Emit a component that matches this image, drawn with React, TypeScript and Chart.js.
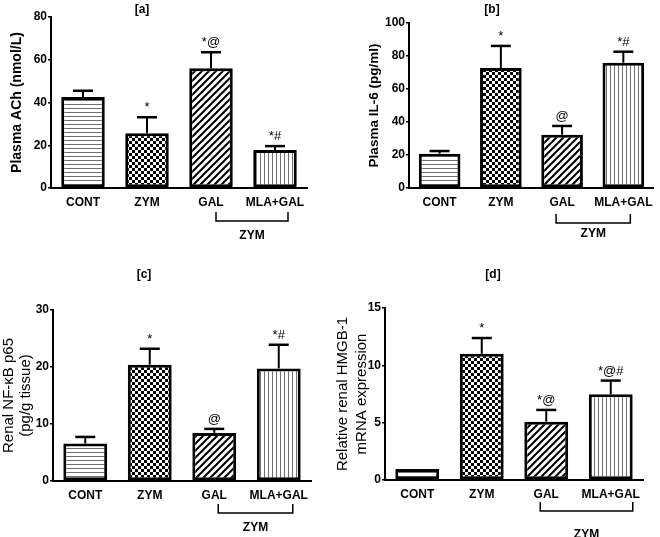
import React, { useEffect, useRef } from "react";
import { Chart, registerables } from "chart.js";

Chart.register(...registerables);

// ---------- data ----------
const categories = ["CONT", "ZYM", "GAL", "MLA+GAL"];
const groupLabel = "ZYM";

const titleA = "[a]";
const yTitleA = "Plasma ACh (nmol/L)";
const valuesA = [42.6, 25.6, 56.0, 17.8];
const errorsA = [2.9, 7.5, 7.5, 1.8];
const marksA = ["", "*", "*@", "*#"];
const yMaxA = 80;
const yStepA = 20;

const titleB = "[b]";
const yTitleB = "Plasma IL-6 (pg/ml)";
const valuesB = [20.8, 72.7, 32.3, 75.9];
const errorsB = [1.6, 13.4, 5.3, 6.7];
const marksB = ["", "*", "@", "*#"];
const yMaxB = 100;
const yStepB = 20;

const titleC = "[c]";
const yTitleC = ["Renal NF-\u03BAB p65", "(pg/g tissue)"];
const valuesC = [6.57, 20.4, 8.44, 19.75];
const errorsC = [1.16, 2.8, 0.7, 4.15];
const marksC = ["", "*", "@", "*#"];
const yMaxC = 30;
const yStepC = 10;

const titleD = "[d]";
const yTitleD = ["Relative renal HMGB-1", "mRNA expression"];
const valuesD = [0.96, 11.0, 5.09, 7.48];
const errorsD = [0, 1.38, 1.02, 1.19];
const marksD = ["", "*", "*@", "*@#"];
const yMaxD = 15;
const yStepD = 5;

// ---------- styles / layout ----------
const FONT = "'Liberation Sans', Arial, Helvetica, sans-serif";

type Layout = {
  left: number; top: number; w: number; h: number;
  areaLeft: number; areaTop: number; areaRight: number; areaBottom: number;
  titleX: number; titleY: number;
  yTitleFont: { size: number; weight: string; lineHeight: number };
  yTitlePad: number;
  bracketL: number; bracketR: number; bracketDy: number; bracketTick: number; groupDy: number;
};

const layoutA: Layout = {
  left: 0, top: 0, w: 330, h: 268,
  areaLeft: 51, areaTop: 17, areaRight: 307, areaBottom: 188,
  titleX: 142, titleY: 10,
  yTitleFont: { size: 14, weight: "bold", lineHeight: 1.2 }, yTitlePad: 9,
  bracketL: 5, bracketR: 13, bracketDy: 33, bracketTick: 9, groupDy: 48,
};
const layoutB: Layout = {
  left: 330, top: 0, w: 330, h: 268,
  areaLeft: 79, areaTop: 23, areaRight: 326, areaBottom: 188,
  titleX: 162, titleY: 10,
  yTitleFont: { size: 13.5, weight: "bold", lineHeight: 1.2 }, yTitlePad: 36,
  bracketL: -6, bracketR: 7, bracketDy: 35, bracketTick: 9, groupDy: 46,
};
const layoutC: Layout = {
  left: 0, top: 268, w: 330, h: 269,
  areaLeft: 53, areaTop: 42, areaRight: 311, areaBottom: 213,
  titleX: 144, titleY: 7,
  yTitleFont: { size: 15, weight: "normal", lineHeight: 1.15 }, yTitlePad: 0,
  bracketL: 4, bracketR: 14, bracketDy: 32, bracketTick: 9, groupDy: 47,
};
const layoutD: Layout = {
  left: 330, top: 268, w: 330, h: 269,
  areaLeft: 55, areaTop: 40, areaRight: 313, areaBottom: 212,
  titleX: 163, titleY: 7,
  yTitleFont: { size: 15, weight: "normal", lineHeight: 1.22 }, yTitlePad: 4,
  bracketL: -6, bracketR: 22, bracketDy: 31, bracketTick: 9, groupDy: 55,
};

function makePattern(kind: string): CanvasPattern | string {
  const c = document.createElement("canvas");
  let size = 4;
  if (kind === "check") size = 6;
  if (kind === "diag") size = 7;
  c.width = size;
  c.height = size;
  const ctx = c.getContext("2d");
  if (!ctx) return "#fff";
  ctx.fillStyle = "#fff";
  ctx.fillRect(0, 0, size, size);
  if (kind === "h") {
    ctx.fillStyle = "#707070";
    ctx.fillRect(0, 0, size, 1);
  } else if (kind === "v") {
    ctx.fillStyle = "#707070";
    ctx.fillRect(0, 0, 1, size);
  } else if (kind === "check") {
    ctx.fillStyle = "#000";
    ctx.fillRect(0, 0, 3, 3);
    ctx.fillRect(3, 3, 3, 3);
  } else if (kind === "diag") {
    ctx.strokeStyle = "#000";
    ctx.lineWidth = 2;
    for (const k of [-size, 0, size]) {
      ctx.beginPath();
      ctx.moveTo(k - 1, size + 1);
      ctx.lineTo(k + size + 1, -1);
      ctx.stroke();
    }
  }
  const p = ctx.createPattern(c, "repeat");
  return p || "#fff";
}

type PanelProps = {
  layout: Layout;
  title: string;
  yTitle: string | string[];
  values: number[];
  errors: number[];
  marks: string[];
  yMax: number;
  yStep: number;
};

function Panel(props: PanelProps) {
  const ref = useRef<HTMLCanvasElement | null>(null);
  useEffect(() => {
    const canvas = ref.current;
    if (!canvas) return;
    const L = props.layout;
    const fills = [makePattern("h"), makePattern("check"), makePattern("diag"), makePattern("v")];
    const xScaleH = 20;

    const overlay = {
      id: "overlay",
      afterDatasetsDraw(chart: any) {
        const ctx = chart.ctx as CanvasRenderingContext2D;
        const meta = chart.getDatasetMeta(0);
        const ys = chart.scales.y;
        ctx.save();
        // error bars
        ctx.strokeStyle = "#000";
        ctx.lineWidth = 2;
        meta.data.forEach((bar: any, i: number) => {
          const err = props.errors[i];
          const top = ys.getPixelForValue(props.values[i]);
          const et = ys.getPixelForValue(props.values[i] + err);
          if (err > 0) {
            ctx.beginPath();
            ctx.moveTo(bar.x, top);
            ctx.lineTo(bar.x, et);
            ctx.stroke();
            ctx.lineWidth = 2.5;
            ctx.beginPath();
            ctx.moveTo(bar.x - 10, et);
            ctx.lineTo(bar.x + 10, et);
            ctx.stroke();
            ctx.lineWidth = 2;
          }
          const mk = props.marks[i];
          if (mk) {
            ctx.fillStyle = "#000";
            ctx.font = `13px ${FONT}`;
            ctx.textAlign = "center";
            ctx.textBaseline = "alphabetic";
            ctx.fillText(mk, bar.x, et - 6);
          }
        });
        // panel title
        ctx.fillStyle = "#000";
        ctx.font = `bold 12px ${FONT}`;
        ctx.textAlign = "center";
        ctx.textBaseline = "middle";
        ctx.fillText(props.title, L.titleX, L.titleY);
        // bracket
        const b2 = meta.data[2];
        const b3 = meta.data[3];
        const x1 = b2.x + L.bracketL;
        const x2 = b3.x + L.bracketR;
        const by = chart.chartArea.bottom + L.bracketDy;
        ctx.lineWidth = 1.5;
        ctx.beginPath();
        ctx.moveTo(x1, by - L.bracketTick);
        ctx.lineTo(x1, by);
        ctx.lineTo(x2, by);
        ctx.lineTo(x2, by - L.bracketTick);
        ctx.stroke();
        ctx.font = `bold 12px ${FONT}`;
        ctx.fillText(groupLabel, (x1 + x2) / 2, chart.chartArea.bottom + L.groupDy);
        ctx.restore();
      },
    };

    const chart = new Chart(canvas, {
      type: "bar",
      data: {
        labels: categories,
        datasets: [
          {
            data: props.values,
            backgroundColor: fills as any,
            borderColor: "#000",
            borderWidth: 3,
            borderSkipped: false,
            barPercentage: 0.68,
            categoryPercentage: 1,
          },
        ],
      },
      options: {
        animation: false,
        responsive: false,
        devicePixelRatio: 1,
        layout: {
          padding: {
            left: 0,
            top: L.areaTop,
            right: L.w - L.areaRight,
            bottom: L.h - L.areaBottom - xScaleH,
          },
        },
        plugins: {
          legend: { display: false },
          tooltip: { enabled: false },
          title: { display: false },
        },
        scales: {
          x: {
            ticks: {
              font: { family: FONT, size: 12, weight: "bold" },
              color: "#000",
              padding: 7,
              maxRotation: 0,
              minRotation: 0,
              autoSkip: false,
            },
            grid: { display: true, drawOnChartArea: false, drawTicks: false, color: "#000" },
            border: { display: true, color: "#000", width: 2 },
            afterFit: (s: any) => {
              s.height = xScaleH;
            },
          },
          y: {
            min: 0,
            max: props.yMax,
            ticks: {
              stepSize: props.yStep,
              font: { family: FONT, size: 12, weight: "bold" },
              color: "#000",
              padding: 1,
            },
            grid: { display: true, drawOnChartArea: false, drawTicks: true, tickLength: 3, color: "#000", lineWidth: 1.5 },
            border: { display: true, color: "#000", width: 2 },
            title: {
              display: true,
              text: props.yTitle,
              color: "#000",
              font: {
                family: FONT,
                size: L.yTitleFont.size,
                weight: L.yTitleFont.weight as any,
                lineHeight: L.yTitleFont.lineHeight,
              },
              padding: { top: L.yTitlePad, bottom: 0 },
            },
            afterFit: (s: any) => {
              s.width = L.areaLeft;
            },
          },
        },
      } as any,
      plugins: [overlay],
    });
    return () => chart.destroy();
  }, []);
  const L = props.layout;
  return (
    <canvas
      ref={ref}
      width={L.w}
      height={L.h}
      style={{ position: "absolute", left: L.left, top: L.top, width: L.w, height: L.h }}
    />
  );
}

export default function App() {
  return (
    <div style={{ position: "absolute", left: 0, top: 0, width: 660, height: 537, background: "#fff" }}>
      <Panel layout={layoutA} title={titleA} yTitle={yTitleA} values={valuesA} errors={errorsA} marks={marksA} yMax={yMaxA} yStep={yStepA} />
      <Panel layout={layoutB} title={titleB} yTitle={yTitleB} values={valuesB} errors={errorsB} marks={marksB} yMax={yMaxB} yStep={yStepB} />
      <Panel layout={layoutC} title={titleC} yTitle={yTitleC} values={valuesC} errors={errorsC} marks={marksC} yMax={yMaxC} yStep={yStepC} />
      <Panel layout={layoutD} title={titleD} yTitle={yTitleD} values={valuesD} errors={errorsD} marks={marksD} yMax={yMaxD} yStep={yStepD} />
    </div>
  );
}
